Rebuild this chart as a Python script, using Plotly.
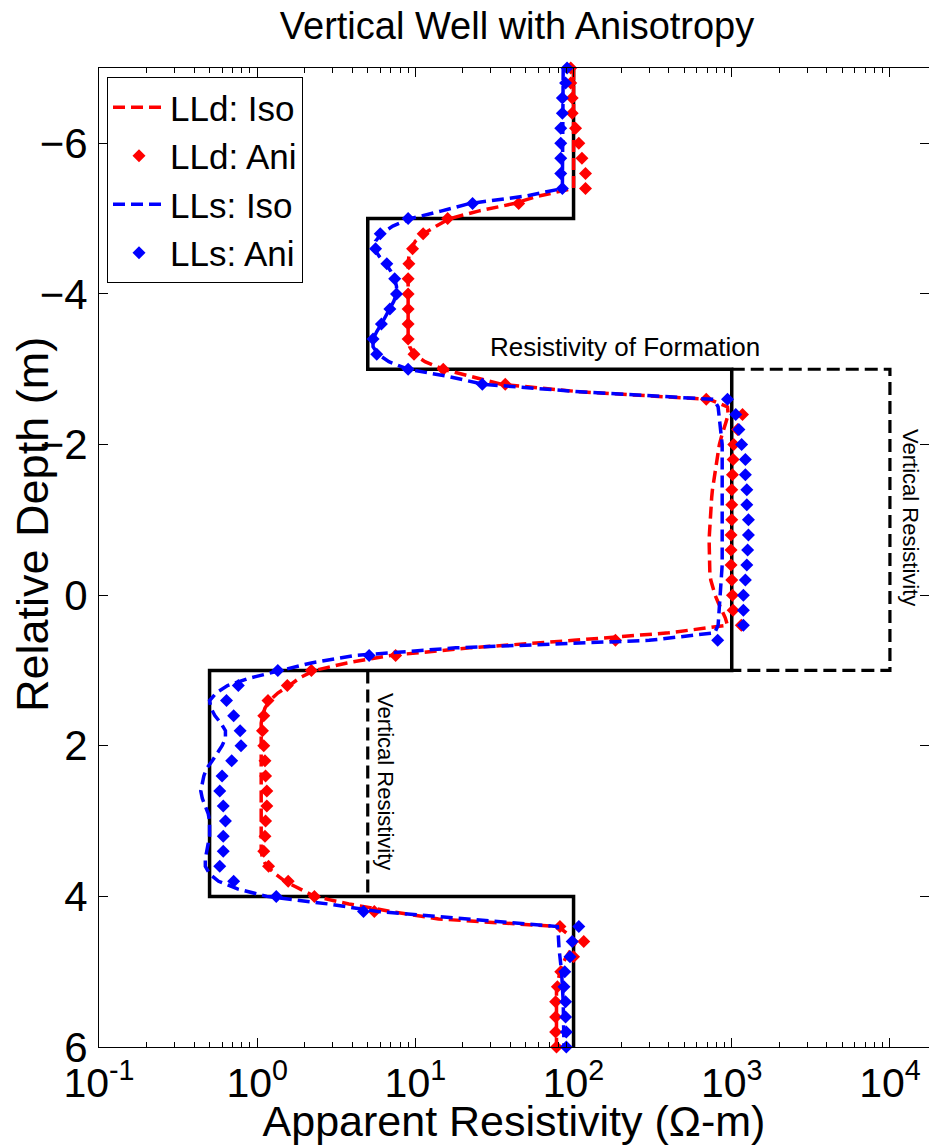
import plotly.graph_objects as go

# ---- formation model (true resistivity vs depth) ----
form_depth = [-7, -5, -5, -3, -3, 1, 1, 4, 4, 6]
form_res = [100, 100, 5, 5, 1000, 1000, 0.5, 0.5, 100, 100]

# vertical resistivity of the anisotropic beds
vert_upper_depth = [-3, -3, 1, 1]
vert_upper_res = [1000, 10000, 10000, 1000]
vert_lower_depth = [1, 4]
vert_lower_res = [5, 5]

# ---- anisotropic responses (0.2 m sampling) ----
ani_depth = [-7.0, -6.8, -6.6, -6.4, -6.2, -6.0, -5.8, -5.6, -5.4, -5.2,
             -5.0, -4.8, -4.6, -4.4, -4.2, -4.0, -3.8, -3.6, -3.4, -3.2,
             -3.0, -2.8, -2.6, -2.4, -2.2, -2.0, -1.8, -1.6, -1.4, -1.2,
             -1.0, -0.8, -0.6, -0.4, -0.2, 0.0, 0.2, 0.4, 0.6, 0.8,
             1.0, 1.2, 1.4, 1.6, 1.8, 2.0, 2.2, 2.4, 2.6, 2.8,
             3.0, 3.2, 3.4, 3.6, 3.8, 4.0, 4.2, 4.4, 4.6, 4.8,
             5.0, 5.2, 5.4, 5.6, 5.8, 6.0]

lld_ani = [96, 96, 98, 98, 103, 108, 113, 119, 119, 45,
           16, 11.2, 9.6, 9.1, 9.0, 9.0, 9.0, 9.0, 9.0, 9.8,
           15, 37, 690, 1170, 1090, 1030, 1020, 1010, 1000, 1000,
           1000, 990, 990, 990, 1000, 1010, 1020, 1150, 184, 7.5,
           2.2, 1.55, 1.17, 1.1, 1.08, 1.1, 1.12, 1.13, 1.15, 1.15,
           1.13, 1.12, 1.1, 1.18, 1.57, 2.3, 5.5, 82, 116, 100,
           83, 79, 77, 77, 77, 78]

lls_ani = [91, 89, 85, 85, 83, 83, 83, 83, 85, 23,
           9.0, 6.0, 5.6, 6.6, 7.4, 7.6, 6.9, 6.1, 5.4, 5.7,
           9.0, 26.5, 940, 1060, 1110, 1155, 1220, 1220, 1245, 1245,
           1275, 1275, 1260, 1245, 1220, 1185, 1185, 1185, 815, 5.1,
           1.35, 0.76, 0.64, 0.71, 0.78, 0.79, 0.69, 0.6, 0.58, 0.61,
           0.63, 0.61, 0.61, 0.58, 0.71, 1.32, 4.7, 108, 98, 95,
           88, 87, 89, 89, 90, 90]

# ---- isotropic responses ----
lld_iso_depth = [-7.0, -6.0, -5.6, -5.4, -5.3, -5.2, -5.1, -5.0, -4.9, -4.8,
                 -4.7, -4.6, -4.5, -4.4, -3.4, -3.3, -3.2, -3.1, -3.0, -2.9,
                 -2.8, -2.7, -2.6, -2.5, -2.4, -2.3, -2.2, -2.1, -2.0, -1.9,
                 -1.8, -1.7, -1.6, -1.5, -1.4, -1.3, -1.2, -1.1, -1.0, -0.9,
                 -0.8, -0.7, -0.4, -0.3, -0.2, -0.1, 0.0, 0.1, 0.2, 0.3,
                 0.4, 0.5, 0.6, 0.7, 0.8, 0.9, 1.0, 1.1, 1.2, 1.3,
                 1.4, 1.5, 1.6, 1.7, 3.4, 3.5, 3.6, 3.7, 3.8, 3.9,
                 4.0, 4.1, 4.2, 4.3, 4.4, 4.5, 4.6, 4.7, 4.8, 4.9,
                 5.0, 5.1, 5.2, 6.0]
lld_iso = [100, 100, 100, 100, 60, 42, 25, 16.5, 13.5, 11.3,
           10.0, 9.4, 9.1, 9.0, 9.0, 9.2, 9.8, 11.5, 15, 23,
           35, 110, 720, 940, 950, 920, 885, 860, 835, 820,
           805, 790, 777, 765, 755, 747, 740, 735, 730, 726,
           722, 720, 720, 727, 737, 757, 785, 822, 865, 910,
           940, 400, 100, 22, 7, 3.7, 2.3, 1.85, 1.6, 1.35,
           1.2, 1.12, 1.08, 1.06, 1.06, 1.08, 1.15, 1.3, 1.5, 1.85,
           2.3, 3.8, 7.0, 14, 80, 92, 104, 97, 90, 85,
           82, 80, 78, 78]

lls_iso_depth = [-7.0, -5.4, -5.3, -5.2, -5.1, -5.0, -4.9, -4.8, -4.7, -4.6,
                 -4.5, -4.4, -4.3, -4.2, -4.1, -4.0, -3.9, -3.8, -3.7, -3.6,
                 -3.5, -3.4, -3.3, -3.2, -3.1, -3.0, -2.9, -2.8, -2.7, -2.6,
                 -2.5, -2.4, -2.3, -2.2, -2.1, -2.0, -0.4, -0.3, -0.2, -0.1,
                 0.0, 0.1, 0.2, 0.3, 0.4, 0.5, 0.6, 0.7, 0.8, 0.9,
                 1.0, 1.1, 1.2, 1.3, 1.4, 1.5, 1.6, 1.7, 1.8, 1.9,
                 2.0, 2.1, 2.2, 2.3, 2.4, 2.5, 2.6, 2.7, 2.8, 2.9,
                 3.0, 3.2, 3.3, 3.4, 3.5, 3.6, 3.7, 3.8, 3.9, 4.0,
                 4.1, 4.2, 4.3, 4.4, 4.5, 4.6, 4.7, 4.8, 5.0, 5.4,
                 6.0]
lls_iso = [86, 85, 50, 22, 14.5, 9.3, 7.2, 6.1, 5.6, 5.5,
           5.9, 6.5, 7.0, 7.4, 7.6, 7.6, 7.3, 6.9, 6.5, 6.1,
           5.7, 5.4, 5.4, 5.8, 6.8, 9.0, 16.5, 27, 110, 770,
           820, 830, 845, 855, 865, 870, 870, 865, 860, 855,
           850, 840, 830, 825, 820, 780, 300, 18, 4.2, 2.2,
           1.4, 0.9, 0.65, 0.55, 0.5, 0.51, 0.54, 0.59, 0.63, 0.63,
           0.6, 0.56, 0.52, 0.48, 0.46, 0.45, 0.44, 0.45, 0.47, 0.49,
           0.5, 0.5, 0.49, 0.48, 0.47, 0.47, 0.5, 0.57, 0.75, 1.15,
           2.8, 5.8, 20, 79, 80, 80, 81, 82, 84, 86,
           87]

x_tick_vals = [0.1, 1, 10, 100, 1000, 10000]
x_tick_text = ["10<sup>-1</sup>", "10<sup>0</sup>", "10<sup>1</sup>",
               "10<sup>2</sup>", "10<sup>3</sup>", "10<sup>4</sup>"]
y_tick_vals = [-6, -4, -2, 0, 2, 4, 6]

FONT = "Liberation Sans, Arial, sans-serif"
W, H = 929, 1145
L, R, T, B = 99, 0, 68, 98


def px(xp):
    return (xp - L) / (W - L - R)


def py(yp):
    return (H - B - yp) / (H - T - B)


fig = go.Figure()

fig.add_trace(go.Scatter(x=form_res, y=form_depth, mode="lines",
                         line=dict(color="black", width=3.5),
                         showlegend=False, hoverinfo="skip"))
fig.add_trace(go.Scatter(x=vert_upper_res, y=vert_upper_depth, mode="lines",
                         line=dict(color="black", width=3.2, dash="13px,6px"),
                         showlegend=False, hoverinfo="skip"))
fig.add_trace(go.Scatter(x=vert_lower_res, y=vert_lower_depth, mode="lines",
                         line=dict(color="black", width=3.2, dash="13px,6px"),
                         showlegend=False, hoverinfo="skip"))

fig.add_trace(go.Scatter(x=lld_iso, y=lld_iso_depth, mode="lines",
                         name="LLd: Iso",
                         line=dict(color="#ff0000", width=3.5, dash="12px,6px")))
fig.add_trace(go.Scatter(x=lld_ani, y=ani_depth, mode="markers",
                         name="LLd: Ani", cliponaxis=False,
                         marker=dict(symbol="diamond", color="#ff0000", size=10)))
fig.add_trace(go.Scatter(x=lls_iso, y=lls_iso_depth, mode="lines",
                         name="LLs: Iso",
                         line=dict(color="#0000ff", width=3.5, dash="12px,6px")))
fig.add_trace(go.Scatter(x=lls_ani, y=ani_depth, mode="markers",
                         name="LLs: Ani", cliponaxis=False,
                         marker=dict(symbol="diamond", color="#0000ff", size=10)))

fig.update_xaxes(
    type="log", range=[-1, 4.247],
    tickvals=x_tick_vals, ticktext=x_tick_text,
    ticks="inside", ticklen=9, tickwidth=1, tickcolor="black",
    minor=dict(ticks="inside", ticklen=5, tickcolor="black", dtick="D1", showgrid=False),
    showline=True, linecolor="black", linewidth=1, mirror="ticks",
    showgrid=False, zeroline=False,
    tickfont=dict(family=FONT, size=41, color="black"),
    ticklabelstandoff=0,
    title=dict(text="Apparent Resistivity (\u03a9-m)",
               font=dict(family=FONT, size=43, color="black"), standoff=0),
)
fig.update_yaxes(
    range=[6, -7],
    tickvals=y_tick_vals,
    ticks="inside", ticklen=9, tickwidth=1, tickcolor="black",
    showline=True, linecolor="black", linewidth=1, mirror="ticks",
    showgrid=False, zeroline=False,
    tickfont=dict(family=FONT, size=42, color="black"),
    ticklabelstandoff=2,
)

fig.update_layout(
    width=W, height=H,
    margin=dict(l=L, r=R, t=T, b=B),
    paper_bgcolor="white", plot_bgcolor="white",
    font=dict(family=FONT, color="black"),
    title=dict(text="Vertical Well with Anisotropy", x=px(517), xref="paper",
               xanchor="center", y=1 - 26 / H, yanchor="middle",
               font=dict(family=FONT, size=38, color="black")),
    legend=dict(x=px(107), y=py(77), xanchor="left", yanchor="top",
                bgcolor="white", bordercolor="black", borderwidth=1,
                font=dict(family=FONT, size=35, color="black"),
                itemwidth=52, tracegroupgap=0),
    showlegend=True,
    annotations=[
        dict(text="Relative Depth (m)", xref="paper", yref="paper",
             x=px(32), y=py(525), xanchor="center", yanchor="middle",
             textangle=-90, showarrow=False,
             font=dict(family=FONT, size=45, color="black")),
        dict(text="Resistivity of Formation", xref="paper", yref="paper",
             x=px(625), y=py(347), xanchor="center", yanchor="middle",
             showarrow=False,
             font=dict(family=FONT, size=26, color="black")),
        dict(text="Vertical Resistivity", xref="paper", yref="paper",
             x=px(911), y=py(517), xanchor="center", yanchor="middle",
             textangle=90, showarrow=False,
             font=dict(family=FONT, size=22, color="black")),
        dict(text="Vertical Resistivity", xref="paper", yref="paper",
             x=px(386), y=py(781), xanchor="center", yanchor="middle",
             textangle=90, showarrow=False,
             font=dict(family=FONT, size=22, color="black")),
    ],
)

fig.write_html("out.html")
